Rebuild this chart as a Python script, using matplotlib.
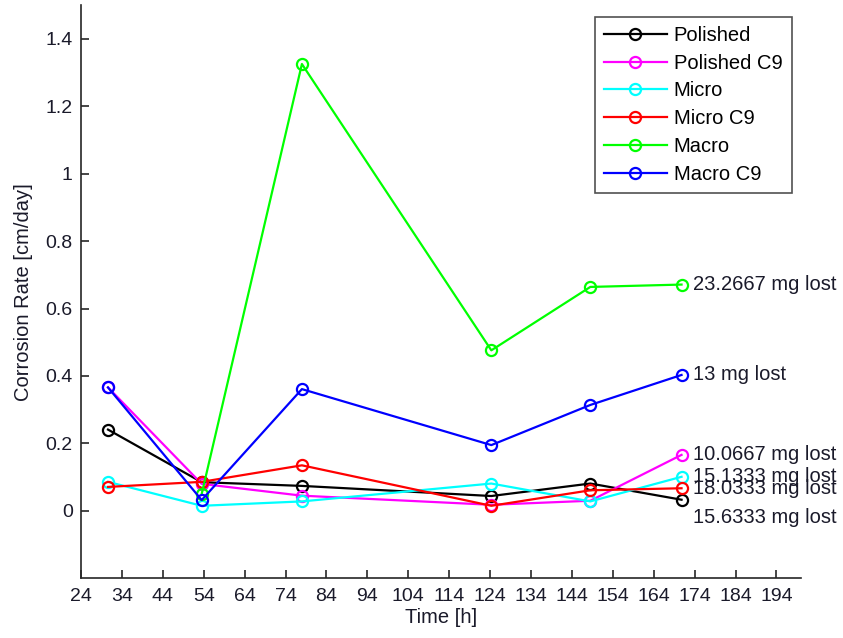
import matplotlib
matplotlib.use("Agg")
import matplotlib.pyplot as plt
import numpy as np

plt.rcParams['font.family'] = ['Liberation Sans', 'DejaVu Sans']

# Sampling times [h]
time_h = [30.6, 53.5, 78, 124.3, 148.5, 170.8]

# Corrosion rate [cm/day] per specimen
polished = [0.241, 0.085, 0.074, 0.044, 0.081, 0.033]
polished_c9 = [0.366, 0.080, 0.045, 0.018, 0.030, 0.166]
micro = [0.086, 0.015, 0.028, 0.081, 0.028, 0.101]
micro_c9 = [0.071, 0.086, 0.135, 0.015, 0.061, 0.067]
macro = [np.nan, 0.050, 1.325, 0.476, 0.664, 0.671]
macro_c9 = [0.366, 0.032, 0.361, 0.195, 0.314, 0.403]

series_names = ['Polished', 'Polished C9', 'Micro', 'Micro C9', 'Macro', 'Macro C9']
series_colors = ['#000000', '#ff00ff', '#00ffff', '#ff0000', '#00ff00', '#0000ff']

# Total mass loss per specimen, written next to the last sample
mass_lost = ['15.6333', '10.0667', '15.1333', '18.0333', '23.2667', '13']
label_offsets = [-0.053, 0.0, 0.0, 0.0, 0.0, 0.0]

x_ticks = list(range(24, 195, 10))
y_ticks = [0, 0.2, 0.4, 0.6, 0.8, 1, 1.2, 1.4]
y_tick_labels = ['0', '0.2', '0.4', '0.6', '0.8', '1', '1.2', '1.4']

fs = 14.5
fs_tick = 14
txt_col = '#1a1a2a'

fig = plt.figure(figsize=(8.43, 6.38), dpi=100)
ax = fig.add_axes([81 / 843, 59.7 / 638, 720 / 843, 573.3 / 638])

all_series = [polished, polished_c9, micro, micro_c9, macro, macro_c9]
for name, vals, col in zip(series_names, all_series, series_colors):
    ax.plot(time_h, vals, '-o', color=col, lw=1.6, ms=8, mfc='none',
            mec=col, mew=1.6, label=name)

for vals, txt, off in zip(all_series, mass_lost, label_offsets):
    ax.text(time_h[-1] + 2.8, vals[-1] + off, f'{txt} mg lost',
            fontsize=fs, va='center', ha='left', color=txt_col)

ax.set_xlim(24, 200)
ax.set_ylim(-0.2, 1.5)
ax.set_xticks(x_ticks)
ax.set_yticks(y_ticks)
ax.set_yticklabels(y_tick_labels)

for s in ['top', 'right']:
    ax.spines[s].set_visible(False)
for s in ['left', 'bottom']:
    ax.spines[s].set_color('#262626')
    ax.spines[s].set_linewidth(1.2)
ax.tick_params(direction='in', length=6, width=1.2, color='#262626',
               labelsize=fs_tick, labelcolor=txt_col)
ax.tick_params(axis='x', pad=7)
ax.tick_params(axis='y', pad=6)

ax.set_xlabel('Time [h]', fontsize=fs, color=txt_col, labelpad=2)
ax.set_ylabel('Corrosion Rate [cm/day]', fontsize=fs, color=txt_col, labelpad=9)

leg = ax.legend(loc='upper right', bbox_to_anchor=(791.5 / 843, 1 - 16.7 / 638),
                bbox_transform=fig.transFigure, borderaxespad=0, fontsize=fs,
                frameon=True, fancybox=False, edgecolor='#262626',
                handlelength=3.1, handletextpad=0.35, labelspacing=0.44,
                borderpad=0.45)
leg.get_frame().set_linewidth(1.2)

fig.savefig('out.png', dpi=100, facecolor='white')
